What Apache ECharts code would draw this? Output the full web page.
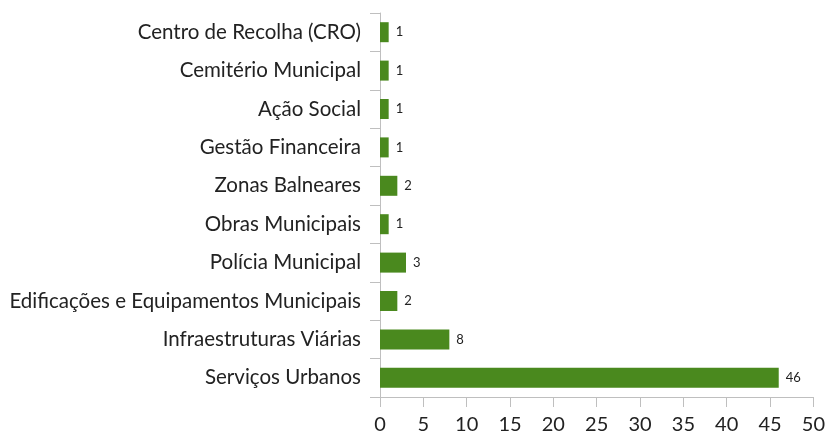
<!DOCTYPE html>
<html><head><meta charset="utf-8">
<script src="https://cdn.jsdelivr.net/npm/echarts@6/dist/echarts.min.js"></script>
<style>html,body{margin:0;padding:0;background:#fff}#c{width:828px;height:435px}</style>
</head><body><div id="c"></div>
<script>
const categories = ["Serviços Urbanos","Infraestruturas Viárias","Edificações e Equipamentos Municipais","Polícia Municipal","Obras Municipais","Zonas Balneares","Gestão Financeira","Ação Social","Cemitério Municipal","Centro de Recolha (CRO)"];
const values = [46,8,2,3,1,2,1,1,1,1];
const xTicks = [0,5,10,15,20,25,30,35,40,45,50];

const chart = echarts.init(document.getElementById('c'));
chart.setOption({
  animation:false,
  grid:{left:380,right:14,top:13,bottom:38,containLabel:false},
  xAxis:{type:'value',min:xTicks[0],max:xTicks[xTicks.length-1],interval:5,
    splitLine:{show:false},
    axisLine:{show:true,lineStyle:{color:'#bfbfbf',width:1}},
    axisTick:{show:true,length:10,lineStyle:{color:'#bfbfbf'}},
    axisLabel:{color:'#222',fontSize:20,fontFamily:'Lato',margin:18}},
  yAxis:{type:'category',data:categories,
    axisLine:{show:true,lineStyle:{color:'#bfbfbf',width:1}},
    axisTick:{show:true,length:10,lineStyle:{color:'#bfbfbf'}},
    axisLabel:{color:'#222',fontSize:20.5,fontFamily:'Lato',margin:19}},
  series:[{type:'bar',data:values,barWidth:20,itemStyle:{color:'#4a891e'},
    label:{show:true,position:'right',distance:7,color:'#222',fontSize:13,fontFamily:'Lato'}}]
});
</script></body></html>
